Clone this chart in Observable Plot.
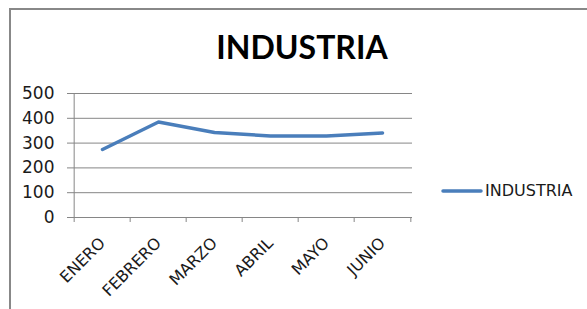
<!DOCTYPE html>
<html>
<head>
<meta charset="utf-8">
<script src="https://cdn.jsdelivr.net/npm/d3@7"></script>
<script src="https://cdn.jsdelivr.net/npm/@observablehq/plot@0.6"></script>
<style>
  html, body { margin: 0; padding: 0; background: #fff; }
  #wrap { position: relative; width: 587px; height: 309px; overflow: hidden; }
  #border { position: absolute; left: 9px; top: 8px; width: 600px; height: 320px;
            border-left: 2px solid #888; border-top: 2px solid #888; box-sizing: border-box; }
  #title { position: absolute; left: 0; width: 604px; top: 27px; text-align: center;
           font: bold 32px Lato, "DejaVu Sans", sans-serif; color: #000; line-height: 40px; }
  #legend { position: absolute; left: 441px; top: 181px; display: flex; align-items: center;
            font: 16px "DejaVu Sans", sans-serif; color: #1a1a1a; }
  #chart { position: absolute; left: 0; top: 0; }
</style>
</head>
<body>
<div id="wrap">
  <div id="border"></div>
  <div id="chart"></div>
  <div id="title">INDUSTRIA</div>
  <div id="legend"><svg width="42" height="10"><line x1="2" y1="5" x2="40" y2="5" stroke="#4a7ebb" stroke-width="3.5" stroke-linecap="round"/></svg><span style="margin-left:2px">INDUSTRIA</span></div>
</div>
<script>
const months = ["ENERO", "FEBRERO", "MARZO", "ABRIL", "MAYO", "JUNIO"];
const industria = [274, 385, 343, 329, 329, 341];
const yTicks = [0, 100, 200, 300, 400, 500];
const seriesName = "INDUSTRIA";

const data = months.map((m, i) => ({month: m, value: industria[i]}));

const W = 587, H = 309, mL = 72, mR = 175, mT = 93, mB = 92;
const step = (W - mL - mR) / months.length;
const gray = "#868686";

const chart = Plot.plot({
  width: W,
  height: H,
  marginLeft: mL,
  marginRight: mR,
  marginTop: mT,
  marginBottom: mB,
  style: {fontFamily: "'DejaVu Sans', sans-serif", fontSize: "15px", color: "#1a1a1a", background: "transparent"},
  x: {type: "point", domain: months, padding: 0.5, axis: null},
  y: {domain: [0, 500], axis: null},
  marks: [
    Plot.gridY(yTicks, {stroke: gray, strokeOpacity: 1, strokeWidth: 1}),
    Plot.axisY({ticks: yTicks, label: null, tickSize: 5, tickFormat: () => "", stroke: gray, strokeOpacity: 1}),
    Plot.text(yTicks, {y: d => d, frameAnchor: "left", dx: -18, textAnchor: "end", fontSize: 17, fill: "#1a1a1a"}),
    Plot.ruleX([months[0]], {dx: -step / 2, y1: 0, y2: 500, stroke: gray}),
    Plot.ruleY([0], {stroke: gray}),
    Plot.axisX({ticks: months, label: null, tickSize: 5, tickFormat: () => "", dx: -step / 2, stroke: gray, strokeOpacity: 1}),
    Plot.axisX({ticks: [months[months.length - 1]], label: null, tickSize: 5, tickFormat: () => "", dx: step / 2, stroke: gray, strokeOpacity: 1}),
    Plot.text(months, {x: d => d, y: () => 0, dy: 23, rotate: -45, textAnchor: "end", fontSize: 16, fill: "#1a1a1a"}),
    Plot.line(data, {x: "month", y: "value", stroke: "#4a7ebb", strokeWidth: 3.5, strokeLinecap: "round", strokeLinejoin: "round"})
  ]
});
document.getElementById("chart").appendChild(chart);
</script>
</body>
</html>
